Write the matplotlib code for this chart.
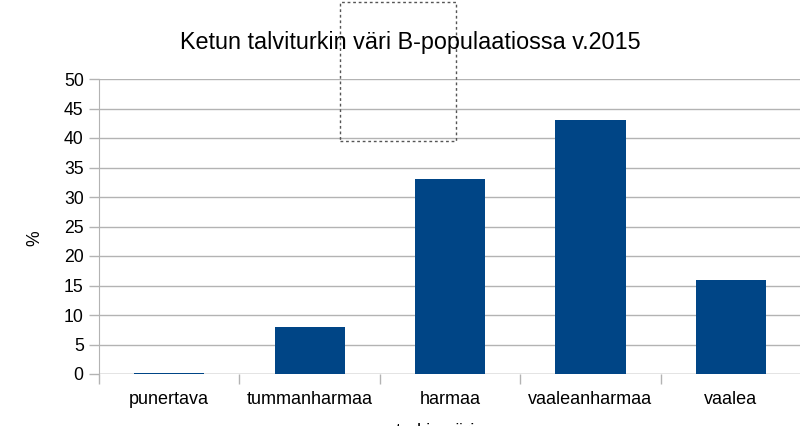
import matplotlib
matplotlib.use("Agg")
import matplotlib.pyplot as plt
from matplotlib.patches import Rectangle

categories = ["punertava", "tummanharmaa", "harmaa", "vaaleanharmaa", "vaalea"]
values = [0.15, 8, 33, 43, 16]
yticks = [0, 5, 10, 15, 20, 25, 30, 35, 40, 45, 50]

plt.rcParams['font.family'] = ['Liberation Sans', 'DejaVu Sans']

fig = plt.figure(figsize=(8, 4.26), dpi=100)
ax = fig.add_axes([99/800, 1-374/426, 702/800, (374-79)/426])

x = list(range(len(categories)))
ax.bar(x, values, width=0.5, color='#004586', zorder=3)
ax.set_xlim(-0.5, len(categories)-0.5)
ax.set_ylim(0, 50)
ax.set_yticks(yticks)
ax.set_yticklabels([str(v) for v in yticks], fontsize=12.7)
ax.yaxis.grid(True, color='#b3b3b3', linewidth=1, zorder=0)
ax.set_xticks(x)
ax.set_xticklabels(categories, fontsize=13)
ax.tick_params(axis='x', length=0, pad=12)
ax.set_xticks([i - 0.5 for i in range(len(categories)+1)], minor=True)
ax.tick_params(axis='x', which='minor', length=7, color='#b3b3b3', width=1)
ax.tick_params(axis='y', length=7, color='#b3b3b3', width=1, pad=4)
for s in ['top', 'right', 'bottom']:
    ax.spines[s].set_visible(False)
ax.spines['left'].set_color('#b3b3b3')
ax.axhline(0, color='#b3b3b3', linewidth=1, zorder=2)

fig.text(410/800, 1-42/426, "Ketun talviturkin väri B-populaatiossa v.2015",
         ha='center', va='center', fontsize=16.8)
fig.text(35/800, 1-238/426, "%", rotation=90, ha='center', va='center', fontsize=12.7)
fig.text(435/800, 1-422.5/426, "turkin väri", ha='center', va='top', fontsize=13)

fig.patches.append(Rectangle((340/800, 1-141/426), 116/800, 139/426,
                             transform=fig.transFigure, fill=False,
                             edgecolor='#555555', linestyle=(0, (2, 2)), linewidth=1))

fig.savefig("out.png", dpi=100)
